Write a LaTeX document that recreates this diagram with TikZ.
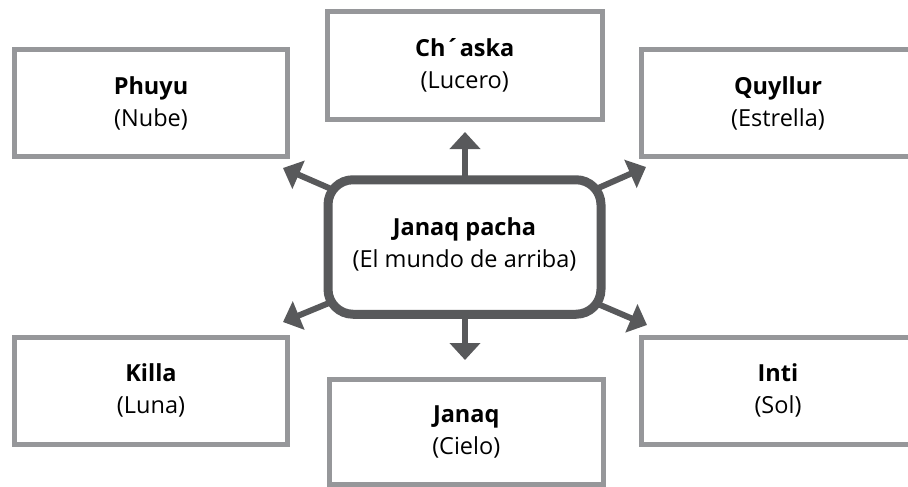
\documentclass[tikz,border=0pt]{standalone}
\usepackage{fontspec}
\setmainfont{Open Sans}
\usetikzlibrary{arrows.meta,backgrounds}
\definecolor{boxgray}{RGB}{150,151,154}
\definecolor{darkgray}{RGB}{88,89,91}
\tikzset{
  txt/.style={align=center, font=\fontsize{23.5}{32}\selectfont, text=black},
  outer/.style={txt, draw=boxgray, line width=5pt, fill=white, inner sep=0pt},
  hub/.style={draw=darkgray, line width=9pt, fill=white, rounded corners=25pt,
    inner sep=0pt, minimum width=273pt, minimum height=134.5pt},
  arr/.style={draw=darkgray, line width=6pt,
    -{Triangle[width=30pt,length=17pt]}}
}
\begin{document}
\begin{tikzpicture}[x=1pt,y=-1pt]
\useasboundingbox (0,0) rectangle (908,487);
\clip (0,0) rectangle (908,487);
\node[outer, minimum width=273pt, minimum height=107pt] (phuyu) at (151,103) {\textbf{Phuyu}\\(Nube)};
\node[outer, minimum width=274.5pt, minimum height=107.5pt] (chaska) at (464.75,65.75) {\textbf{Ch´aska}\\(Lucero)};
\node[outer, minimum width=273pt, minimum height=107pt] (quyllur) at (778,103) {\textbf{Quyllur}\\(Estrella)};
\node[outer, minimum width=273pt, minimum height=107.5pt] (killa) at (151,390.75) {\textbf{Killa}\\(Luna)};
\node[outer, minimum width=273.5pt, minimum height=104.5pt] (janaq) at (466.25,431.75) {\textbf{Janaq}\\(Cielo)};
\node[outer, minimum width=273pt, minimum height=107.5pt] (inti) at (778,390.75) {\textbf{Inti}\\(Sol)};
\node[hub] (hub) at (464.5,247) {};
\node[txt, inner sep=0pt] (hubtext) at (464.5,244) {\textbf{Janaq pacha}\\(El mundo de arriba)};
\coordinate (tUp) at (465,132);
\coordinate (tDown) at (465,360);
\coordinate (tUL) at (283,168);
\coordinate (tUR) at (646,167);
\coordinate (tLL) at (283,322);
\coordinate (tLR) at (647,325);
\begin{scope}[on background layer]
\draw[arr] (hub.center -| tUp) -- (tUp);
\draw[arr] (hub.center -| tDown) -- (tDown);
\draw[arr] (hub.center) -- (tUL);
\draw[arr] (hub.center) -- (tUR);
\draw[arr] (hub.center) -- (tLL);
\draw[arr] (hub.center) -- (tLR);
\end{scope}
\end{tikzpicture}
\end{document}
